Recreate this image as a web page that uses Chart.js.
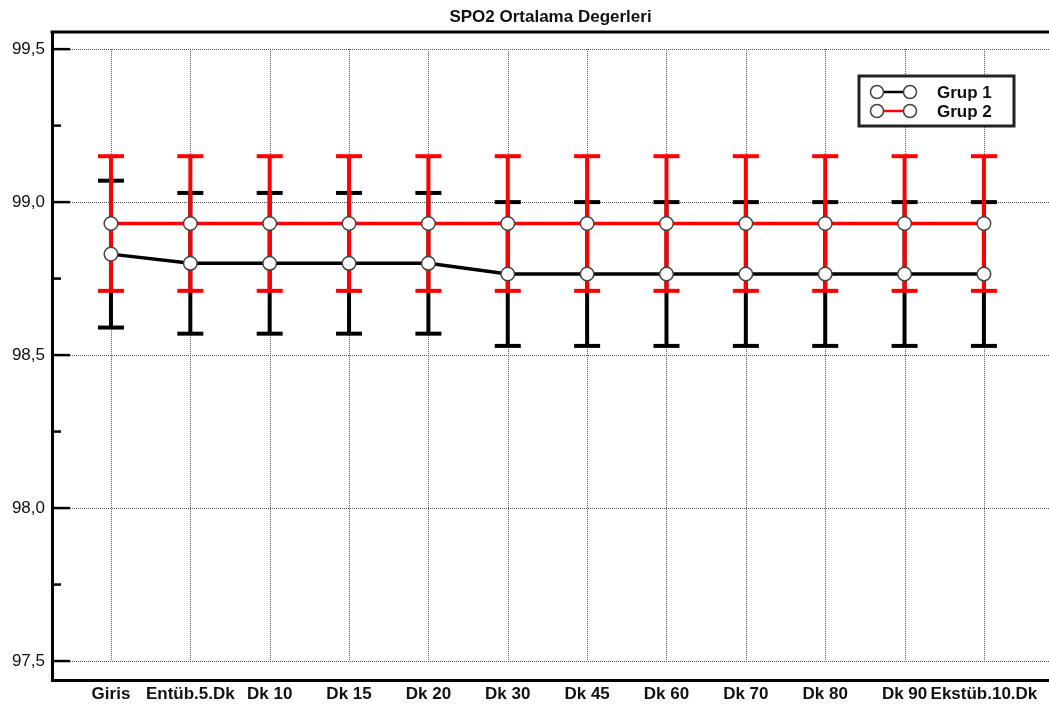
<!DOCTYPE html>
<html>
<head>
<meta charset="utf-8">
<script src="https://cdn.jsdelivr.net/npm/chart.js@4.4.0/dist/chart.umd.min.js"></script>
<style>
html, body { margin: 0; padding: 0; background: #fff; }
</style>
</head>
<body>
<canvas id="chart" width="1049" height="707"></canvas>
<script>
const FONT = '"Liberation Sans", Arial, sans-serif';

const labels = ['Giris', 'Entüb.5.Dk', 'Dk 10', 'Dk 15', 'Dk 20', 'Dk 30', 'Dk 45', 'Dk 60', 'Dk 70', 'Dk 80', 'Dk 90', 'Ekstüb.10.Dk'];
const grup1Mean = [98.83, 98.80, 98.80, 98.80, 98.80, 98.765, 98.765, 98.765, 98.765, 98.765, 98.765, 98.765];
const grup1Err  = [0.24, 0.23, 0.23, 0.23, 0.23, 0.235, 0.235, 0.235, 0.235, 0.235, 0.235, 0.235];
const grup2Mean = [98.93, 98.93, 98.93, 98.93, 98.93, 98.93, 98.93, 98.93, 98.93, 98.93, 98.93, 98.93];
const grup2Err  = [0.22, 0.22, 0.22, 0.22, 0.22, 0.22, 0.22, 0.22, 0.22, 0.22, 0.22, 0.22];
const yTicks = [97.5, 98.0, 98.5, 99.0, 99.5];
const yMinorTicks = [97.75, 98.25, 98.75, 99.25];
const title = 'SPO2 Ortalama Degerleri';

function toPoints(arr) {
    return arr.map((v, i) => ({x: i, y: v}));
}

function line(ctx, x1, y1, x2, y2) {
    ctx.beginPath();
    ctx.moveTo(x1, y1);
    ctx.lineTo(x2, y2);
    ctx.stroke();
}

const extras = {
    id: 'extras',
    beforeDatasetsDraw(chart) {
        const {ctx, chartArea: a, scales: {x, y}} = chart;
        ctx.save();
        // dotted grid
        ctx.strokeStyle = '#555';
        ctx.lineWidth = 1;
        ctx.setLineDash([1, 1]);
        const yTop = y.getPixelForValue(yTicks[yTicks.length - 1]);
        const yBot = y.getPixelForValue(yTicks[0]);
        yTicks.forEach(v => {
            const p = Math.round(y.getPixelForValue(v)) + 0.5;
            line(ctx, a.left + 18, p, chart.width, p);
        });
        labels.forEach((_, i) => {
            const p = Math.round(x.getPixelForValue(i)) + 0.5;
            line(ctx, p, yTop, p, yBot);
        });
        // error bars
        ctx.setLineDash([]);
        ctx.lineWidth = 4;
        [[grup1Mean, grup1Err, '#000'], [grup2Mean, grup2Err, '#ff0000']].forEach(([m, e, c]) => {
            ctx.strokeStyle = c;
            m.forEach((v, i) => {
                const px = x.getPixelForValue(i);
                const hi = y.getPixelForValue(v + e[i]);
                const lo = y.getPixelForValue(v - e[i]);
                line(ctx, px, hi, px, lo);
                line(ctx, px - 13, hi, px + 13, hi);
                line(ctx, px - 13, lo, px + 13, lo);
            });
        });
        ctx.restore();
    },
    afterDraw(chart) {
        const {ctx, chartArea: a, scales: {y}} = chart;
        ctx.save();
        // title
        ctx.fillStyle = '#111';
        ctx.font = 'bold 17px ' + FONT;
        ctx.textAlign = 'center';
        ctx.textBaseline = 'middle';
        ctx.fillText(title, (a.left + a.right) / 2, 17);
        // top frame line
        ctx.strokeStyle = '#000';
        ctx.lineWidth = 3;
        line(ctx, a.left - 1.5, a.top, chart.width, a.top);
        // inner y ticks
        ctx.lineWidth = 2.5;
        yTicks.forEach(v => {
            const p = y.getPixelForValue(v);
            line(ctx, a.left, p, a.left + 18, p);
        });
        yMinorTicks.forEach(v => {
            const p = y.getPixelForValue(v);
            line(ctx, a.left, p, a.left + 9, p);
        });
        // legend
        const bw = 155, bh = 50;
        const bx = 1014 - bw, by = a.top + 44;
        ctx.fillStyle = '#fff';
        ctx.fillRect(bx, by, bw, bh);
        ctx.lineWidth = 3;
        ctx.strokeStyle = '#222';
        ctx.strokeRect(bx, by, bw, bh);
        chart.data.datasets.forEach((ds, i) => {
            const ry = by + 16 + i * 19;
            ctx.strokeStyle = ds.borderColor;
            ctx.lineWidth = 2.5;
            line(ctx, bx + 18, ry, bx + 51, ry);
            [bx + 18, bx + 51].forEach(cx => {
                ctx.beginPath();
                ctx.arc(cx, ry, 6.5, 0, Math.PI * 2);
                ctx.fillStyle = '#fff';
                ctx.fill();
                ctx.strokeStyle = '#444';
                ctx.lineWidth = 1.5;
                ctx.stroke();
            });
            ctx.fillStyle = '#111';
            ctx.font = 'bold 17px ' + FONT;
            ctx.textAlign = 'left';
            ctx.textBaseline = 'middle';
            ctx.fillText(ds.label, bx + 78, ry + 1);
        });
        ctx.restore();
    }
};

const pointStyle = {
    pointRadius: 6.8,
    pointBackgroundColor: '#fff',
    pointBorderColor: '#444',
    pointBorderWidth: 1.5,
    borderWidth: 3.5,
    tension: 0,
    fill: false
};

new Chart(document.getElementById('chart').getContext('2d'), {
    type: 'line',
    data: {
        datasets: [
            Object.assign({label: 'Grup 1', data: toPoints(grup1Mean), borderColor: '#000'}, pointStyle),
            Object.assign({label: 'Grup 2', data: toPoints(grup2Mean), borderColor: '#ff0000'}, pointStyle)
        ]
    },
    options: {
        responsive: false,
        devicePixelRatio: 1,
        animation: false,
        layout: { autoPadding: false, padding: { top: 32, left: 0, right: 0, bottom: 0 } },
        plugins: {
            legend: { display: false },
            title: { display: false },
            tooltip: { enabled: false }
        },
        scales: {
            x: {
                type: 'linear',
                min: -0.743,
                max: 11.82,
                afterBuildTicks: s => { s.ticks = labels.map((_, i) => ({value: i})); },
                afterFit: s => { s.height = 27; },
                grid: { display: false, drawTicks: false },
                border: { display: true, color: '#000', width: 3 },
                ticks: {
                    autoSkip: false,
                    maxRotation: 0,
                    padding: 4,
                    color: '#111',
                    font: { family: FONT, size: 17, weight: 'bold' },
                    callback: v => labels[v]
                }
            },
            y: {
                min: 97.438,
                max: 99.556,
                afterBuildTicks: s => { s.ticks = yTicks.map(v => ({value: v})); },
                afterFit: s => { s.width = 52; },
                grid: { display: false, drawTicks: false },
                border: { display: true, color: '#000', width: 3 },
                ticks: {
                    padding: 7,
                    color: '#111',
                    font: { family: FONT, size: 17 },
                    callback: v => v.toFixed(1).replace('.', ',')
                }
            }
        }
    },
    plugins: [extras]
});
</script>
</body>
</html>
